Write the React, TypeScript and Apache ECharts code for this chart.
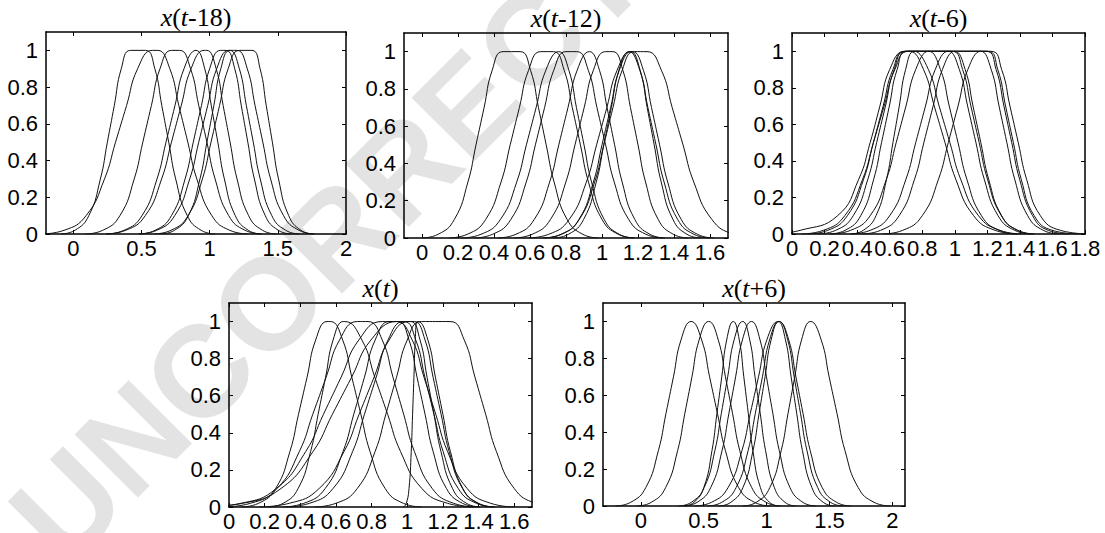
import React, { useEffect, useRef } from "react";
import * as echarts from "echarts";

// Membership levels at which each curve's x-positions were read (rising side, then falling side)
const LEVELS = [0, 0.02, 0.1, 0.3, 0.5, 0.7, 0.9, 1, 1, 0.9, 0.7, 0.5, 0.3, 0.1, 0.02, 0];
const Y_TICKS = [0, 0.2, 0.4, 0.6, 0.8, 1];
const Y_RANGE = [0, 1.1];

// Panel 1: x(t-18)
const P1_SHIFT = "-18";
const P1_X_RANGE = [-0.2, 2];
const P1_X_TICKS = [0, 0.5, 1, 1.5, 2];
const P1_CURVES = [
  [-0.09, 0.012, 0.114, 0.199, 0.25, 0.301, 0.352, 0.42, 0.53, 0.598, 0.649, 0.7, 0.751, 0.836, 0.938, 1.04],
  [-0.23, -0.068, 0.094, 0.229, 0.31, 0.391, 0.472, 0.58, 0.62, 0.708, 0.774, 0.84, 0.906, 1.016, 1.148, 1.28],
  [0.09, 0.216, 0.342, 0.447, 0.51, 0.573, 0.636, 0.72, 0.78, 0.86, 0.92, 0.98, 1.04, 1.14, 1.26, 1.38],
  [0.24, 0.372, 0.504, 0.614, 0.68, 0.746, 0.812, 0.9, 0.9, 0.964, 1.012, 1.06, 1.108, 1.188, 1.284, 1.38],
  [0.24, 0.384, 0.528, 0.648, 0.72, 0.792, 0.864, 0.96, 0.98, 1.048, 1.099, 1.15, 1.201, 1.286, 1.388, 1.49],
  [0.48, 0.6, 0.72, 0.82, 0.88, 0.94, 1.0, 1.08, 1.12, 1.184, 1.232, 1.28, 1.328, 1.408, 1.504, 1.6],
  [0.48, 0.612, 0.744, 0.854, 0.92, 0.986, 1.052, 1.14, 1.15, 1.218, 1.269, 1.32, 1.371, 1.456, 1.558, 1.66],
  [0.64, 0.742, 0.844, 0.929, 0.98, 1.031, 1.082, 1.15, 1.2, 1.276, 1.333, 1.39, 1.447, 1.542, 1.656, 1.77],
  [0.59, 0.716, 0.842, 0.947, 1.01, 1.073, 1.136, 1.22, 1.31, 1.37, 1.415, 1.46, 1.505, 1.58, 1.67, 1.76],
];

// Panel 2: x(t-12)
const P2_SHIFT = "-12";
const P2_X_RANGE = [-0.1, 1.7];
const P2_X_TICKS = [0, 0.2, 0.4, 0.6, 0.8, 1, 1.2, 1.4, 1.6];
const P2_CURVES = [
  [0.0, 0.09, 0.18, 0.255, 0.3, 0.345, 0.39, 0.45, 0.545, 0.603, 0.647, 0.69, 0.734, 0.806, 0.893, 0.98],
  [0.15, 0.252, 0.354, 0.439, 0.49, 0.541, 0.592, 0.66, 0.73, 0.79, 0.835, 0.88, 0.925, 1.0, 1.09, 1.18],
  [0.22, 0.328, 0.436, 0.526, 0.58, 0.634, 0.688, 0.76, 0.76, 0.816, 0.858, 0.9, 0.942, 1.012, 1.096, 1.18],
  [0.29, 0.392, 0.494, 0.579, 0.63, 0.681, 0.732, 0.8, 0.86, 0.924, 0.972, 1.02, 1.068, 1.148, 1.244, 1.34],
  [0.42, 0.522, 0.624, 0.709, 0.76, 0.811, 0.862, 0.93, 0.93, 0.986, 1.028, 1.07, 1.112, 1.182, 1.266, 1.35],
  [0.51, 0.612, 0.714, 0.799, 0.85, 0.901, 0.952, 1.02, 1.06, 1.116, 1.158, 1.2, 1.242, 1.312, 1.396, 1.48],
  [0.73, 0.814, 0.898, 0.968, 1.01, 1.052, 1.094, 1.15, 1.15, 1.21, 1.255, 1.3, 1.345, 1.42, 1.51, 1.6],
  [0.68, 0.776, 0.872, 0.952, 1.0, 1.048, 1.096, 1.16, 1.16, 1.212, 1.251, 1.29, 1.329, 1.394, 1.472, 1.55],
  [0.59, 0.704, 0.818, 0.913, 0.97, 1.027, 1.084, 1.16, 1.17, 1.23, 1.275, 1.32, 1.365, 1.44, 1.53, 1.62],
  [0.67, 0.772, 0.874, 0.959, 1.01, 1.061, 1.112, 1.18, 1.25, 1.33, 1.39, 1.45, 1.51, 1.61, 1.73, 1.85],
];

// Panel 3: x(t-6)
const P3_SHIFT = "-6";
const P3_X_RANGE = [0, 1.8];
const P3_X_TICKS = [0, 0.2, 0.4, 0.6, 0.8, 1, 1.2, 1.4, 1.6, 1.8];
const P3_CURVES = [
  [-0.12, 0.05, 0.28, 0.41, 0.48, 0.54, 0.6, 0.69, 0.72, 0.808, 0.874, 0.94, 1.006, 1.116, 1.248, 1.38],
  [0.16, 0.268, 0.376, 0.466, 0.52, 0.574, 0.628, 0.7, 0.98, 1.048, 1.099, 1.15, 1.201, 1.286, 1.388, 1.49],
  [0.23, 0.326, 0.422, 0.502, 0.55, 0.598, 0.646, 0.71, 1.2, 1.264, 1.312, 1.36, 1.408, 1.488, 1.6, 1.76],
  [0.1, 0.22, 0.34, 0.44, 0.5, 0.56, 0.62, 0.7, 1.22, 1.288, 1.339, 1.39, 1.441, 1.526, 1.65, 1.82],
  [0.36, 0.438, 0.516, 0.581, 0.62, 0.659, 0.698, 0.75, 0.75, 0.838, 0.904, 0.97, 1.036, 1.146, 1.278, 1.41],
  [0.24, 0.36, 0.48, 0.58, 0.64, 0.7, 0.76, 0.84, 0.84, 0.912, 0.966, 1.02, 1.074, 1.164, 1.272, 1.38],
  [0.36, 0.48, 0.6, 0.7, 0.76, 0.82, 0.88, 0.96, 0.96, 1.028, 1.079, 1.13, 1.181, 1.266, 1.368, 1.47],
  [0.43, 0.544, 0.658, 0.753, 0.81, 0.867, 0.924, 1.0, 1.0, 1.064, 1.112, 1.16, 1.208, 1.288, 1.384, 1.48],
  [0.56, 0.68, 0.8, 0.9, 0.96, 1.02, 1.08, 1.16, 1.16, 1.224, 1.272, 1.32, 1.368, 1.448, 1.544, 1.64],
  [0.06, 0.192, 0.324, 0.434, 0.5, 0.566, 0.632, 0.72, 1.19, 1.254, 1.302, 1.35, 1.398, 1.478, 1.574, 1.7],
];

// Panel 4: x(t)
const P4_SHIFT = "";
const P4_X_RANGE = [0, 1.7];
const P4_X_TICKS = [0, 0.2, 0.4, 0.6, 0.8, 1, 1.2, 1.4, 1.6];
const P4_CURVES = [
  [0.07, 0.166, 0.262, 0.342, 0.39, 0.438, 0.486, 0.55, 0.57, 0.638, 0.689, 0.74, 0.791, 0.876, 0.978, 1.08],
  [0.22, 0.304, 0.388, 0.458, 0.5, 0.542, 0.584, 0.64, 0.65, 0.746, 0.818, 0.89, 0.962, 1.082, 1.226, 1.37],
  [-0.03, 0.12, 0.27, 0.395, 0.47, 0.545, 0.62, 0.72, 0.78, 0.86, 0.92, 0.98, 1.04, 1.14, 1.26, 1.38],
  [-0.13, 0.068, 0.266, 0.431, 0.53, 0.629, 0.728, 0.86, 0.98, 1.048, 1.099, 1.15, 1.201, 1.286, 1.388, 1.49],
  [-0.14, 0.076, 0.292, 0.472, 0.58, 0.688, 0.796, 0.94, 0.94, 1.028, 1.094, 1.16, 1.226, 1.336, 1.468, 1.6],
  [0.32, 0.452, 0.584, 0.694, 0.76, 0.826, 0.892, 0.98, 1.02, 1.072, 1.111, 1.15, 1.189, 1.254, 1.332, 1.41],
  [0.17, 0.338, 0.506, 0.646, 0.73, 0.814, 0.898, 1.01, 1.04, 1.1, 1.145, 1.19, 1.235, 1.31, 1.4, 1.49],
  [0.98, 0.995, 1.01, 1.0225, 1.03, 1.0375, 1.045, 1.055, 1.06, 1.116, 1.158, 1.2, 1.242, 1.312, 1.396, 1.48],
  [0.48, 0.6, 0.72, 0.82, 0.88, 0.94, 1.0, 1.08, 1.24, 1.32, 1.38, 1.44, 1.5, 1.6, 1.72, 1.84],
  [0.3, 0.42, 0.54, 0.64, 0.7, 0.76, 0.82, 0.9, 0.95, 1.01, 1.055, 1.1, 1.145, 1.22, 1.31, 1.4],
];

// Panel 5: x(t+6)
const P5_SHIFT = "+6";
const P5_X_RANGE = [-0.3, 2.1];
const P5_X_TICKS = [0, 0.5, 1, 1.5, 2];
const P5_CURVES = [
  [-0.2, -0.08, 0.04, 0.14, 0.2, 0.26, 0.32, 0.4, 0.4, 0.484, 0.547, 0.61, 0.673, 0.778, 0.904, 1.03],
  [-0.03, 0.084, 0.198, 0.293, 0.35, 0.407, 0.464, 0.54, 0.54, 0.616, 0.673, 0.73, 0.787, 0.882, 0.996, 1.11],
  [0.345, 0.423, 0.501, 0.566, 0.605, 0.644, 0.683, 0.735, 0.735, 0.783, 0.819, 0.855, 0.891, 0.951, 1.023, 1.095],
  [0.3, 0.402, 0.504, 0.589, 0.64, 0.691, 0.742, 0.81, 0.81, 0.866, 0.908, 0.95, 0.992, 1.062, 1.146, 1.23],
  [0.34, 0.448, 0.556, 0.646, 0.7, 0.754, 0.808, 0.88, 0.88, 0.948, 0.999, 1.05, 1.101, 1.186, 1.288, 1.39],
  [0.43, 0.562, 0.694, 0.804, 0.87, 0.936, 1.002, 1.09, 1.09, 1.15, 1.195, 1.24, 1.285, 1.36, 1.45, 1.54],
  [0.53, 0.644, 0.758, 0.853, 0.91, 0.967, 1.024, 1.1, 1.1, 1.168, 1.219, 1.27, 1.321, 1.406, 1.508, 1.61],
  [0.62, 0.716, 0.812, 0.892, 0.94, 0.988, 1.036, 1.1, 1.1, 1.176, 1.233, 1.29, 1.347, 1.442, 1.556, 1.67],
  [0.81, 0.918, 1.026, 1.116, 1.17, 1.224, 1.278, 1.35, 1.35, 1.434, 1.497, 1.56, 1.623, 1.728, 1.854, 1.98],
];

const WATERMARK = "UNCORRECTED";

// Layout (pixels): [left, top, width, height]
const PANELS = [
  { shift: P1_SHIFT, xRange: P1_X_RANGE, xTicks: P1_X_TICKS, curves: P1_CURVES, box: [46, 32, 300, 202] },
  { shift: P2_SHIFT, xRange: P2_X_RANGE, xTicks: P2_X_TICKS, curves: P2_CURVES, box: [404, 33, 324, 205] },
  { shift: P3_SHIFT, xRange: P3_X_RANGE, xTicks: P3_X_TICKS, curves: P3_CURVES, box: [792, 33, 293, 201] },
  { shift: P4_SHIFT, xRange: P4_X_RANGE, xTicks: P4_X_TICKS, curves: P4_CURVES, box: [229, 303, 303, 204] },
  { shift: P5_SHIFT, xRange: P5_X_RANGE, xTicks: P5_X_TICKS, curves: P5_CURVES, box: [603, 303, 302, 203] },
];

const FONT_SANS = '"Liberation Sans", Arial, Helvetica, sans-serif';
const FONT_SERIF = '"Liberation Serif", "Times New Roman", serif';

function toPoints(xs: number[]): number[][] {
  const pts: number[][] = [];
  xs.forEach((x, i) => {
    const y = LEVELS[i];
    const last = pts[pts.length - 1];
    if (last && last[0] === x && last[1] === y) return;
    pts.push([x, y]);
  });
  return pts;
}

function buildOption() {
  const lineStyleAxis = { color: "#000", width: 1.5 };
  const tickStyle = { color: "#000", width: 1 };
  const grid: any[] = [];
  const xAxis: any[] = [];
  const yAxis: any[] = [];
  const series: any[] = [];
  const graphic: any[] = [];

  graphic.push({
    type: "text",
    x: 391,
    y: 181,
    rotation: Math.PI / 4,
    z: -10,
    silent: true,
    style: {
      text: WATERMARK,
      font: 'bold 130px "Liberation Sans", Arial, sans-serif',
      fill: "#e3e3e3",
      align: "center",
      verticalAlign: "middle",
    },
  });

  PANELS.forEach((p, i) => {
    const [left, top, width, height] = p.box;
    grid.push({ left, top, width, height, containLabel: false, outerBoundsMode: "none" });
    const xBase = {
      gridIndex: i,
      type: "value",
      min: p.xRange[0],
      max: p.xRange[1],
      splitLine: { show: false },
      axisLine: { show: true, onZero: false, lineStyle: lineStyleAxis },
      axisTick: { show: true, inside: true, length: 4, customValues: p.xTicks, lineStyle: tickStyle },
    };
    xAxis.push({
      ...xBase,
      position: "bottom",
      axisLabel: {
        show: true,
        customValues: p.xTicks,
        color: "#000",
        fontSize: 22,
        fontFamily: FONT_SANS,
        margin: 3,
      },
    });
    xAxis.push({ ...xBase, position: "top", axisLabel: { show: false } });
    const yBase = {
      gridIndex: i,
      type: "value",
      min: Y_RANGE[0],
      max: Y_RANGE[1],
      splitLine: { show: false },
      axisLine: { show: true, onZero: false, lineStyle: lineStyleAxis },
      axisTick: { show: true, inside: true, length: 4, customValues: Y_TICKS, lineStyle: tickStyle },
    };
    yAxis.push({
      ...yBase,
      position: "left",
      axisLabel: {
        show: true,
        customValues: Y_TICKS,
        color: "#000",
        fontSize: 22,
        fontFamily: FONT_SANS,
        margin: 8,
      },
    });
    yAxis.push({ ...yBase, position: "right", axisLabel: { show: false } });

    p.curves.forEach((c) => {
      series.push({
        type: "line",
        xAxisIndex: 2 * i,
        yAxisIndex: 2 * i,
        data: toPoints(c),
        smooth: 0.5,
        symbol: "none",
        showSymbol: false,
        clip: true,
        silent: true,
        lineStyle: { color: "#111", width: 1 },
      });
    });

    graphic.push({
      type: "text",
      x: left + width / 2,
      y: top - 15,
      z: 10,
      silent: true,
      style: {
        text: `{i|x}{n|(}{i|t}{n|${p.shift})}`,
        rich: {
          i: { fontFamily: FONT_SERIF, fontSize: 26, fontStyle: "italic", fill: "#000" },
          n: { fontFamily: FONT_SERIF, fontSize: 26, fill: "#000" },
        },
        fontFamily: FONT_SERIF,
        fontSize: 26,
        fill: "#000",
        align: "center",
        verticalAlign: "middle",
      },
    });
  });

  return {
    animation: false,
    backgroundColor: "#fff",
    grid,
    xAxis,
    yAxis,
    series,
    graphic,
  };
}

export default function App() {
  const ref = useRef<HTMLDivElement>(null);
  useEffect(() => {
    if (!ref.current) return;
    const chart = echarts.init(ref.current, undefined, { renderer: "svg" });
    chart.setOption(buildOption() as any);
    return () => chart.dispose();
  }, []);
  return (
    <div
      ref={ref}
      style={{ position: "absolute", left: 0, top: 0, width: 1105, height: 533, background: "#fff" }}
    />
  );
}
